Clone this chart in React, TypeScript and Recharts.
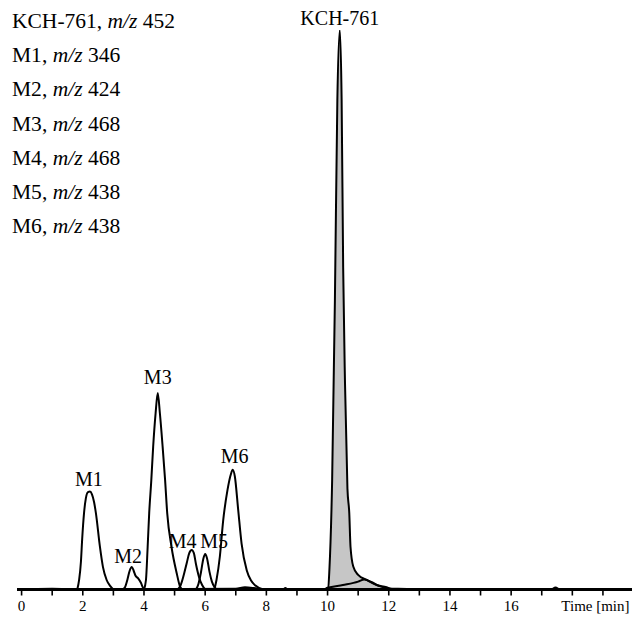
import React from 'react';
import { ComposedChart, Area, Line, XAxis, YAxis } from 'recharts';

// Retention time (min) / relative intensity (% of the KCH-761 maximum) for each ion trace
const kch761: [number, number][] = [
  [9.9, 0], [10.02, 0.3], [10.06, 3.5], [10.15, 19.6], [10.24, 51.7], [10.32, 87.5], [10.4, 100],
  [10.46, 87.5], [10.51, 57.6], [10.57, 36.9], [10.65, 18], [10.71, 13.6], [10.75, 7.65],
  [10.84, 4.1], [11.0, 2.6], [11.28, 1.7], [11.6, 0.8], [11.93, 0.4], [12.1, 0],
];
const m1: [number, number][] = [
  [1.82, 0], [1.88, 1.7], [1.94, 5], [1.98, 9], [2.04, 13.6], [2.1, 16.3], [2.17, 17.4], [2.235, 17.5],
  [2.3, 17], [2.37, 15.6], [2.43, 13.6], [2.56, 7.65], [2.66, 4], [2.78, 1.7], [2.9, 0.6], [3.0, 0],
];
const m2: [number, number][] = [
  [3.3, 0], [3.38, 0.4], [3.46, 1.8], [3.53, 3.3], [3.6, 4.0], [3.66, 3.4], [3.72, 2.5],
  [3.81, 2.0], [3.9, 1.2], [3.97, 0.3], [4.02, 0],
];
const m3: [number, number][] = [
  [4.0, 0], [4.065, 1.7], [4.12, 7.6], [4.17, 13.6], [4.24, 19.6], [4.3, 25.5], [4.38, 31.5], [4.45, 35.1],
  [4.52, 31.5], [4.61, 25.5], [4.69, 19.6], [4.76, 13.6], [4.9, 7.6], [5.07, 2.9], [5.18, 0.5], [5.25, 0],
];
const m4: [number, number][] = [
  [5.1, 0], [5.2, 0.8], [5.3, 2.6], [5.4, 4.8], [5.48, 6.5], [5.56, 7.06], [5.63, 6.5],
  [5.7, 4.5], [5.8, 2.2], [5.9, 0.8], [6.0, 0],
];
const m5: [number, number][] = [
  [5.7, 0], [5.78, 1], [5.86, 3], [5.94, 5.5], [6.0, 6.35], [6.06, 5.6], [6.14, 3.2],
  [6.22, 1.4], [6.32, 0.3], [6.38, 0],
];
const m6: [number, number][] = [
  [6.3, 0], [6.37, 1.7], [6.48, 5.9], [6.59, 12.4], [6.73, 17.8], [6.84, 20.6], [6.9, 21.4],
  [6.97, 20.2], [7.08, 14.2], [7.19, 8.2], [7.36, 3.4], [7.5, 1.6], [7.63, 0.75], [7.9, 0],
];
// Unlabelled background trace (baseline drift and minor signals)
const background: [number, number][] = [
  [-0.15, 0], [1.0, 0.15], [1.9, 0], [7.0, 0.15], [7.3, 0.4], [7.6, 0.25], [7.9, 0], [8.55, 0],
  [8.62, 0.25], [8.7, 0], [9.85, 0], [10.0, 0.3], [10.5, 0.8], [11.0, 1.4], [11.2, 1.8], [11.45, 1.3],
  [11.7, 0.6], [12.0, 0.2], [12.6, 0.1], [12.7, 0], [17.3, 0], [17.45, 0.35], [17.6, 0], [19.95, 0],
];

const legendNames = ['KCH-761', 'M1', 'M2', 'M3', 'M4', 'M5', 'M6'];
const legendMz = [452, 346, 424, 468, 468, 438, 438];

const timeTicks = [0, 1, 2, 3, 4, 5, 6, 7, 8, 9, 10, 11, 12, 13, 14, 15, 16, 17, 18, 19];
const axisTitle = 'Time [min]';

const FONT = '"Liberation Serif", "Times New Roman", serif';

const rows = (pts: [number, number][]) => pts.map(([t, v]) => ({ t, v }));
const peakIndex = (pts: [number, number][]) =>
  pts.reduce((best, p, i) => (p[1] > pts[best][1] ? i : best), 0);

// Peak-name placement relative to the apex (horizontal shift, gap above)
const labelPlacement: Record<string, [number, number]> = {
  'KCH-761': [0, 5],
  M1: [-1, 6],
  M2: [-3.5, 4],
  M3: [0, 9],
  M4: [-9, 2],
  M5: [9, 6],
  M6: [2, 7],
};

const peakLabel = (name: string, pts: [number, number][]) => {
  const idx = peakIndex(pts);
  const [dx, gap] = labelPlacement[name];
  return (props: any) => {
    if (props.index !== idx) return <g key={`${name}-${props.index}`} />;
    return (
      <text
        key={`${name}-peak`}
        x={props.x + dx}
        y={props.y - gap}
        textAnchor="middle"
        fontFamily={FONT}
        fontSize={20}
        fill="#000"
      >
        {name}
      </text>
    );
  };
};

const TimeTick = (props: any) => {
  const { x, y, payload } = props;
  const v = payload.value as number;
  if (v === 18) {
    return (
      <text x={x - 11} y={y} dy={13} textAnchor="start" fontFamily={FONT} fontSize={15} fill="#000">
        {axisTitle}
      </text>
    );
  }
  if (v % 2 !== 0 || v > 18) return <g />;
  return (
    <text x={x} y={y} dy={13} textAnchor="middle" fontFamily={FONT} fontSize={15} fill="#000">
      {v}
    </text>
  );
};

const traces: { name: string; pts: [number, number][] }[] = [
  { name: 'M1', pts: m1 },
  { name: 'M2', pts: m2 },
  { name: 'M3', pts: m3 },
  { name: 'M4', pts: m4 },
  { name: 'M5', pts: m5 },
  { name: 'M6', pts: m6 },
];

export default function App() {
  return (
    <div
      style={{
        position: 'absolute',
        left: 0,
        top: 0,
        width: 632,
        height: 619,
        overflow: 'hidden',
        background: '#fff',
      }}
    >
      <ComposedChart
        width={632}
        height={619}
        data={rows(kch761)}
        margin={{ top: 30, right: 0, bottom: 0, left: 17 }}
      >
        <XAxis
          dataKey="t"
          type="number"
          domain={[-0.15, 19.95]}
          ticks={timeTicks}
          interval={0}
          allowDataOverflow
          height={29.5}
          axisLine={{ stroke: '#000', strokeWidth: 3 }}
          tickLine={{ stroke: '#000', strokeWidth: 1.6 }}
          tickSize={6}
          tickMargin={2}
          tick={<TimeTick />}
        />
        <YAxis hide domain={[0, 100]} allowDataOverflow />
        <Area
          type="monotone"
          dataKey="v"
          stroke="#000"
          strokeWidth={2}
          fill="#c6c6c6"
          fillOpacity={1}
          dot={false}
          activeDot={false}
          isAnimationActive={false}
          label={peakLabel('KCH-761', kch761)}
        />
        <Line
          data={rows(background)}
          type="monotone"
          dataKey="v"
          stroke="#000"
          strokeWidth={2}
          dot={false}
          activeDot={false}
          isAnimationActive={false}
        />
        {traces.map((tr) => (
          <Line
            key={tr.name}
            data={rows(tr.pts)}
            type="monotone"
            dataKey="v"
            stroke="#000"
            strokeWidth={2}
            dot={false}
            activeDot={false}
            isAnimationActive={false}
            label={peakLabel(tr.name, tr.pts)}
          />
        ))}
      </ComposedChart>
      <div
        style={{
          position: 'absolute',
          left: 12,
          top: 4,
          fontFamily: FONT,
          fontSize: 21.5,
          lineHeight: '34.2px',
          color: '#000',
          whiteSpace: 'nowrap',
        }}
      >
        {legendNames.map((n, i) => (
          <div key={n}>
            {n}, <i>m/z</i> {legendMz[i]}
          </div>
        ))}
      </div>
    </div>
  );
}
